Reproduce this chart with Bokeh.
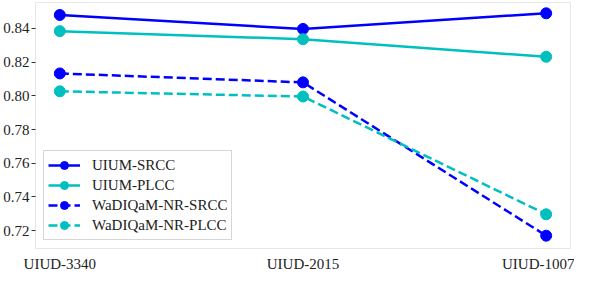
from bokeh.plotting import figure
from bokeh.models import Range1d, FixedTicker, Legend, LegendItem
from bokeh.embed import file_html
from bokeh.resources import INLINE

categories = ["UIUD-3340", "UIUD-2015", "UIUD-1007"]
uium_srcc = [0.848, 0.8397, 0.849]
uium_plcc = [0.8384, 0.8336, 0.8232]
wadiqam_srcc = [0.8133, 0.8080, 0.7170]
wadiqam_plcc = [0.8027, 0.7996, 0.7297]
y_ticks = [0.72, 0.74, 0.76, 0.78, 0.80, 0.82, 0.84]

FONT = "Liberation Serif"
BLUE = "#0000ff"
CYAN = "#00bfbf"

xs = list(range(len(categories)))

p = figure(width=574, height=274, output_backend="svg", toolbar_location=None,
           x_range=Range1d(-0.1, 2.1), y_range=Range1d(0.7094, 0.8554),
           min_border_left=30, min_border_right=4, min_border_top=2, min_border_bottom=0)
p.background_fill_color = "white"
p.border_fill_color = "white"
p.outline_line_color = "#e6e6e6"
p.outline_line_width = 1
p.xgrid.visible = False
p.ygrid.visible = False

series = [
    ("UIUM-SRCC", uium_srcc, BLUE, "solid"),
    ("UIUM-PLCC", uium_plcc, CYAN, "solid"),
    ("WaDIQaM-NR-SRCC", wadiqam_srcc, BLUE, "9 4"),
    ("WaDIQaM-NR-PLCC", wadiqam_plcc, CYAN, "9 4"),
]
items = []
for name, vals, col, dash in series:
    r1 = p.line(xs, vals, line_color=col, line_width=2.5, line_dash=dash)
    r2 = p.scatter(xs, vals, size=11, fill_color=col, line_color=col)
    items.append(LegendItem(label=name, renderers=[r1, r2]))

legend = Legend(items=items, location="bottom_left", margin=8, padding=4, spacing=0,
                label_height=20, glyph_height=20, glyph_width=32, label_standoff=12,
                label_text_font=FONT, label_text_font_size="15px", label_text_color="#222222",
                border_line_color="#cccccc", border_line_alpha=0.8,
                background_fill_color="white", background_fill_alpha=0.8)
p.add_layout(legend)

p.xaxis.ticker = FixedTicker(ticks=xs)
p.xaxis.major_label_overrides = {i: c for i, c in enumerate(categories)}
p.xaxis.axis_line_color = None
p.xaxis.major_tick_line_color = None
p.xaxis.minor_tick_line_color = None
p.xaxis.major_label_standoff = 1
p.xaxis.major_label_text_font = FONT
p.xaxis.major_label_text_font_size = "15px"
p.xaxis.major_label_text_color = "#222222"

p.yaxis.ticker = FixedTicker(ticks=y_ticks)
p.yaxis.major_label_overrides = {t: f"{t:.2f}" for t in y_ticks}
p.yaxis.axis_line_color = None
p.yaxis.minor_tick_line_color = None
p.yaxis.major_tick_line_color = "#333333"
p.yaxis.major_tick_out = 4
p.yaxis.major_tick_in = 0
p.yaxis.major_label_standoff = 2
p.yaxis.major_label_text_font = FONT
p.yaxis.major_label_text_font_size = "15px"
p.yaxis.major_label_text_color = "#222222"

open("out.html", "w").write(file_html(p, INLINE))
